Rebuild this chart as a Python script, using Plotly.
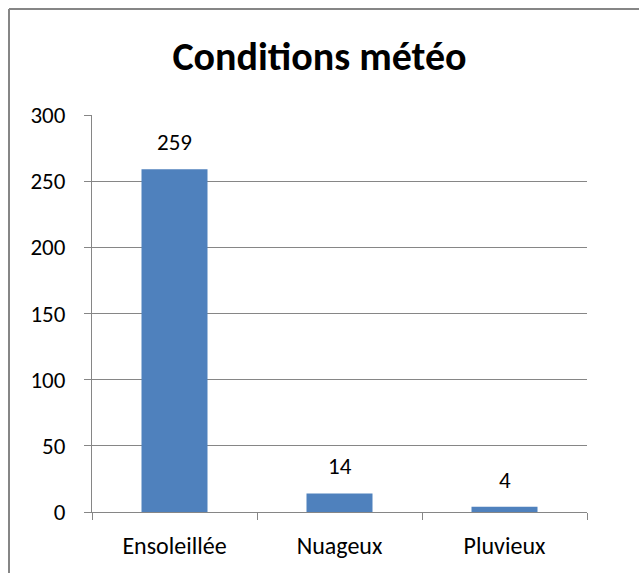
import plotly.graph_objects as go

categories = ["Ensoleillée", "Nuageux", "Pluvieux"]
values = [259, 14, 4]
y_ticks = [0, 50, 100, 150, 200, 250, 300]
title_text = "Conditions météo"

FONT = "Calibri, Carlito, Lato, 'Open Sans', sans-serif"
GRID = "#868686"

fig = go.Figure(
    go.Bar(
        x=categories,
        y=values,
        marker=dict(color="#4F81BD", line=dict(width=0)),
        width=0.4,
        hoverinfo="x+y",
    )
)

for c, v in zip(categories, values):
    fig.add_annotation(
        x=c, y=v, xref="x", yref="y",
        text=str(v), showarrow=False,
        yanchor="bottom", xanchor="center",
        yshift=11,
        font=dict(size=23, family=FONT, color="#000000"),
    )

L, R, T, B = 92, 587, 115, 512
W, H = 639, 573

fig.update_layout(
    width=W,
    height=H,
    margin=dict(l=L, r=W - R, t=T, b=H - B),
    paper_bgcolor="white",
    plot_bgcolor="white",
    showlegend=False,
    font=dict(family=FONT, size=23, color="#000000"),
    title=dict(
        text="<b>" + title_text + "</b>",
        x=0.5,
        xanchor="center",
        y=1 - 56 / H,
        yanchor="middle",
        font=dict(size=40, family=FONT, color="#000000"),
    ),
    xaxis=dict(
        type="category",
        showgrid=False,
        showline=True,
        linecolor=GRID,
        linewidth=1,
        ticks="outside",
        tickson="boundaries",
        ticklen=7,
        tickcolor=GRID,
        tickfont=dict(size=24, family=FONT),
        ticklabelstandoff=12,
        range=[-0.5, 2.5],
    ),
    yaxis=dict(
        range=[0, 300],
        tickvals=y_ticks,
        showgrid=True,
        gridcolor=GRID,
        gridwidth=1,
        showline=True,
        linecolor=GRID,
        linewidth=1,
        ticks="outside",
        ticklen=7,
        tickcolor=GRID,
        tickfont=dict(size=23, family=FONT),
        ticklabelstandoff=14,
        zeroline=False,
    ),
    shapes=[
        dict(
            type="line", xref="paper", yref="paper",
            x0=(9 - L) / (R - L), x1=(W + 5 - L) / (R - L),
            y0=1 + (T - 9) / (B - T), y1=1 + (T - 9) / (B - T),
            line=dict(color=GRID, width=2),
        ),
        dict(
            type="line", xref="paper", yref="paper",
            x0=(9 - L) / (R - L), x1=(9 - L) / (R - L),
            y0=1 + (T - 9) / (B - T), y1=-(H + 5 - B) / (B - T),
            line=dict(color=GRID, width=2),
        ),
    ],
)

fig.write_html(
    "out.html",
    config={"displayModeBar": False},
    post_script="document.body.style.margin='0px';document.body.style.overflow='hidden';",
)
